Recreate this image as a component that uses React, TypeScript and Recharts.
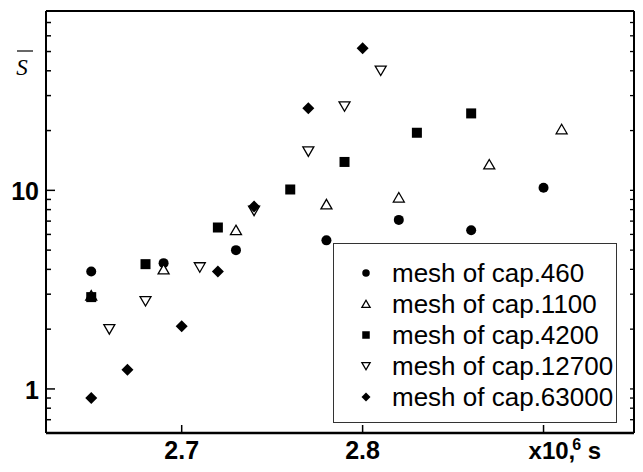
import { Legend, Scatter, ScatterChart, XAxis, YAxis } from "recharts";

// time in 10^6 s, value of S-bar
const x460 = [2.65, 2.69, 2.73, 2.78, 2.82, 2.86, 2.9];
const y460 = [3.9, 4.3, 5.0, 5.6, 7.1, 6.3, 10.3];

const x1100 = [2.65, 2.69, 2.73, 2.78, 2.82, 2.87, 2.91];
const y1100 = [2.95, 4.0, 6.3, 8.5, 9.2, 13.5, 20.3];

const x4200 = [2.65, 2.68, 2.72, 2.76, 2.79, 2.83, 2.86];
const y4200 = [2.9, 4.25, 6.5, 10.1, 13.9, 19.5, 24.4];

const x12700 = [2.66, 2.68, 2.71, 2.74, 2.77, 2.79, 2.81];
const y12700 = [2.0, 2.77, 4.1, 7.9, 15.7, 26.5, 40.1];

const x63000 = [2.65, 2.67, 2.7, 2.72, 2.74, 2.77, 2.8];
const y63000 = [0.9, 1.25, 2.07, 3.9, 8.3, 25.9, 52];

const xTicks = [2.7, 2.8, 2.9];
const topTicks = [2.65, 2.675, 2.7, 2.725, 2.75, 2.775, 2.8, 2.825, 2.85, 2.875, 2.9, 2.925];
const yTicks = [0.7, 0.8, 0.9, 1, 2, 3, 4, 5, 6, 7, 8, 9, 10, 20, 30, 40, 50, 60, 70];
const yLabels = [1, 10];

type Kind = "circle" | "up" | "square" | "down" | "diamond";

const zip = (xs: number[], ys: number[]) => xs.map((x, i) => ({ x, y: ys[i] }));

const series: { name: string; kind: Kind; data: { x: number; y: number }[] }[] = [
  { name: "mesh of cap.460", kind: "circle", data: zip(x460, y460) },
  { name: "mesh of cap.1100", kind: "up", data: zip(x1100, y1100) },
  { name: "mesh of cap.4200", kind: "square", data: zip(x4200, y4200) },
  { name: "mesh of cap.12700", kind: "down", data: zip(x12700, y12700) },
  { name: "mesh of cap.63000", kind: "diamond", data: zip(x63000, y63000) },
];

const FONT = "'Liberation Sans', Arial, sans-serif";

function Marker({ cx, cy, kind, s = 1 }: { cx: number; cy: number; kind: Kind; s?: number }) {
  if (cx == null || cy == null) return null;
  switch (kind) {
    case "circle":
      return <circle cx={cx} cy={cy} r={5 * s} fill="#000" />;
    case "square":
      return <rect x={cx - 5 * s} y={cy - 5 * s} width={10 * s} height={10 * s} fill="#000" />;
    case "diamond":
      return (
        <polygon
          points={`${cx},${cy - 6 * s} ${cx + 6 * s},${cy} ${cx},${cy + 6 * s} ${cx - 6 * s},${cy}`}
          fill="#000"
        />
      );
    case "up":
      return (
        <polygon
          points={`${cx},${cy - 5 * s} ${cx + 5.5 * s},${cy + 4.5 * s} ${cx - 5.5 * s},${cy + 4.5 * s}`}
          fill="#fff"
          stroke="#000"
          strokeWidth={1.3}
        />
      );
    case "down":
      return (
        <polygon
          points={`${cx - 5.5 * s},${cy - 4.5 * s} ${cx + 5.5 * s},${cy - 4.5 * s} ${cx},${cy + 5 * s}`}
          fill="#fff"
          stroke="#000"
          strokeWidth={1.3}
        />
      );
  }
  return null;
}

const LeftTick = ({ x, y, payload }: any) => {
  const major = yLabels.includes(payload.value);
  return (
    <g>
      <line x1={x} x2={x + (major ? 9 : 5)} y1={y} y2={y} stroke="#000" strokeWidth={1.5} />
      {major && (
        <text x={x - 7} y={y + 10} textAnchor="end" fontSize={25} fontWeight={700} fontFamily={FONT} fill="#000">
          {payload.value}
        </text>
      )}
    </g>
  );
};

const RightTick = ({ x, y }: any) => (
  <line x1={x} x2={x - 4} y1={y} y2={y} stroke="#000" strokeWidth={1.3} />
);

const TopTick = ({ x, y }: any) => (
  <line x1={x} x2={x} y1={y} y2={y + 3} stroke="#000" strokeWidth={1.3} />
);

const BottomTick = ({ x, y, payload }: any) => (
  <g>
    <line x1={x} x2={x} y1={y} y2={y - 8} stroke="#000" strokeWidth={1.5} />
    {payload.value === 2.9 ? (
      <text x={x - 15} y={y + 26} fontSize={24} fontWeight={700} fontFamily={FONT} fill="#000">
        x10,
        <tspan dx={-3} dy={-9} fontSize={16}>6</tspan>
        <tspan dy={9} fontSize={24}> s</tspan>
      </text>
    ) : (
      <text x={x} y={y + 26} textAnchor="middle" fontSize={25} fontWeight={700} fontFamily={FONT} fill="#000">
        {payload.value}
      </text>
    )}
  </g>
);

const YLabel = ({ viewBox }: any) => {
  const vx = viewBox?.x ?? 0;
  return (
    <g>
      <text x={vx + 22} y={75} textAnchor="middle" fontSize={23} fontStyle="italic" fontFamily="'Liberation Serif', 'Times New Roman', serif" fill="#000">
        S
      </text>
      <line x1={vx + 17} x2={vx + 33} y1={51} y2={51} stroke="#000" strokeWidth={1.2} />
    </g>
  );
};

const LegendBox = () => (
  <div
    style={{
      width: 284,
      height: 180,
      boxSizing: "border-box",
      border: "1.5px solid #333",
      background: "#fff",
      paddingTop: 14,
      fontFamily: FONT,
      fontSize: 26,
      color: "#000",
    }}
  >
    {series.map((s) => (
      <div key={s.name} style={{ display: "flex", alignItems: "center", height: 30.8 }}>
        <svg width={58} height={30} style={{ flex: "none" }}>
          <Marker cx={32} cy={15} kind={s.kind} s={0.75} />
        </svg>
        <span style={{ whiteSpace: "nowrap", lineHeight: "30px" }}>{s.name}</span>
      </div>
    ))}
  </div>
);

export default function App() {
  return (
    <div style={{ position: "absolute", left: 0, top: 0, background: "#fff" }}>
      <ScatterChart width={643} height={472} margin={{ top: 0, right: 0, bottom: 0, left: 0 }}>
        <XAxis
          type="number"
          dataKey="x"
          domain={[2.625, 2.95]}
          allowDataOverflow
          ticks={xTicks}
          interval={0}
          height={39}
          tickSize={0}
          tickMargin={0}
          tickLine={false}
          axisLine={{ stroke: "#000", strokeWidth: 2.5 }}
          tick={BottomTick}
        />
        <XAxis
          xAxisId="top"
          orientation="top"
          type="number"
          domain={[2.625, 2.95]}
          allowDataOverflow
          ticks={topTicks}
          interval={0}
          height={11}
          tickSize={0}
          tickMargin={0}
          tickLine={false}
          axisLine={{ stroke: "#000", strokeWidth: 2 }}
          tick={TopTick}
        />
        <YAxis
          type="number"
          dataKey="y"
          scale="log"
          domain={[0.6, 80]}
          allowDataOverflow
          ticks={yTicks}
          interval={0}
          width={46}
          tickSize={0}
          tickMargin={0}
          tickLine={false}
          axisLine={{ stroke: "#000", strokeWidth: 2 }}
          tick={LeftTick}
          label={{ content: YLabel }}
        />
        <YAxis
          yAxisId="right"
          orientation="right"
          type="number"
          scale="log"
          domain={[0.6, 80]}
          allowDataOverflow
          ticks={yTicks}
          interval={0}
          width={9}
          tickSize={0}
          tickMargin={0}
          tickLine={false}
          axisLine={{ stroke: "#000", strokeWidth: 2 }}
          tick={RightTick}
        />
        {series.map((s) => (
          <Scatter
            key={s.name}
            name={s.name}
            data={s.data}
            isAnimationActive={false}
            shape={(p: any) => <Marker cx={p.cx} cy={p.cy} kind={s.kind} />}
          />
        ))}
        <Legend
          layout="vertical"
          align="center"
          verticalAlign="middle"
          content={LegendBox}
          wrapperStyle={{ left: 333, top: 243, width: 284, height: 180 }}
        />
      </ScatterChart>
    </div>
  );
}
